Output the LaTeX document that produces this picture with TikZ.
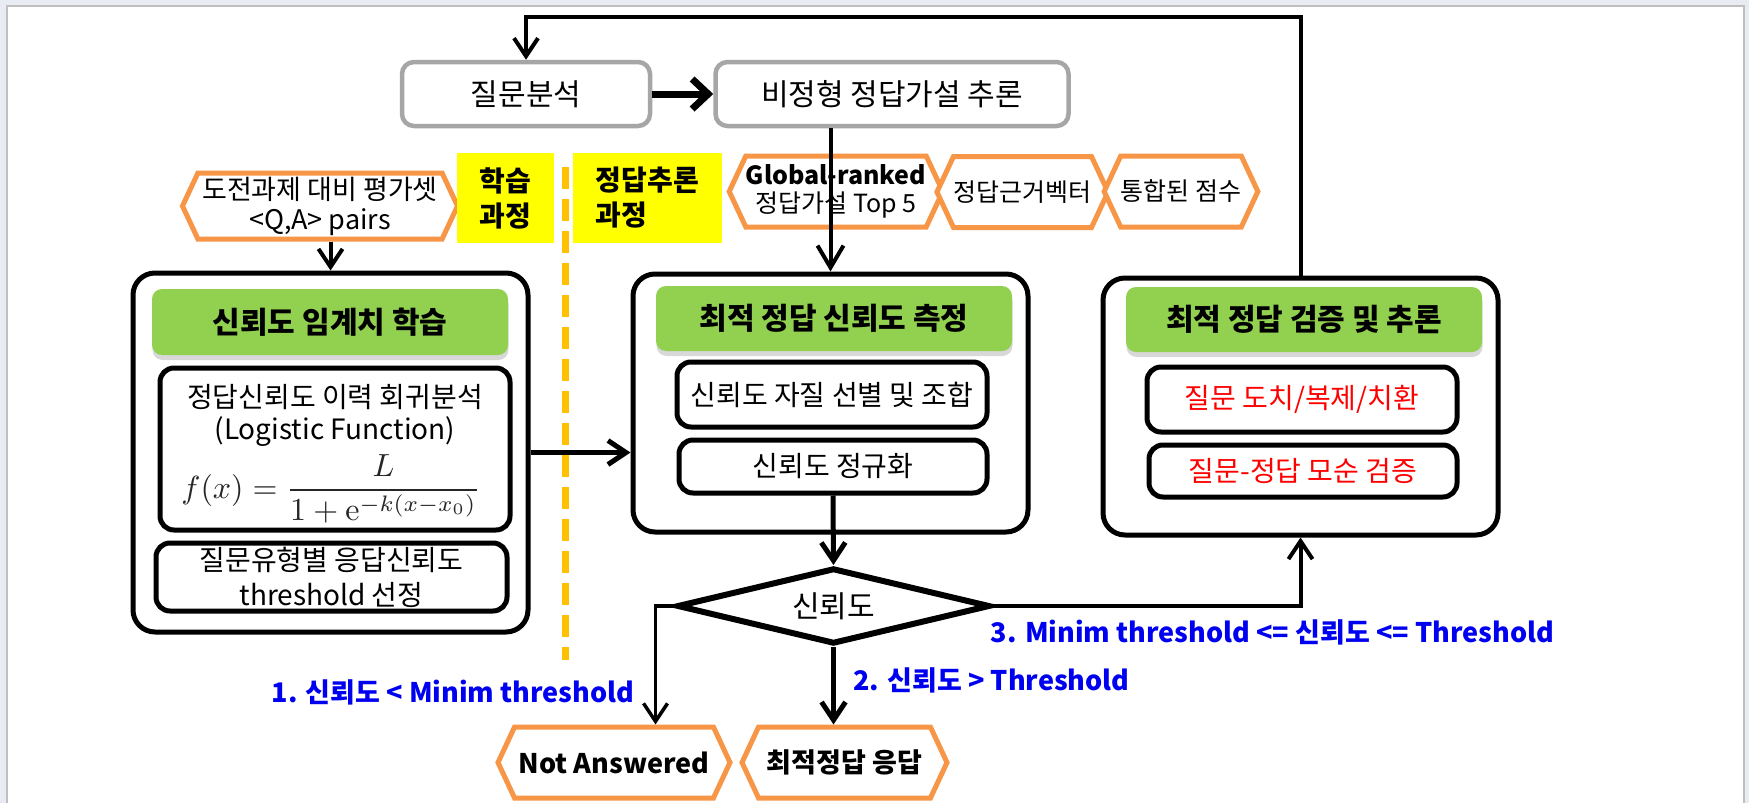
\documentclass[tikz,border=0pt]{standalone}
\usepackage{graphicx}
\usepackage[no-math]{fontspec}
\setmainfont{Noto Sans CJK KR}
\usetikzlibrary{shapes.geometric,shapes.symbols,arrows.meta,shadows}
\definecolor{framebg}{HTML}{E8ECF2}
\definecolor{frameline}{HTML}{BFBFBF}
\definecolor{graybdr}{HTML}{A6A6A6}
\definecolor{hdrgreen}{HTML}{92D050}
\definecolor{hexorange}{HTML}{F79646}
\definecolor{dashorange}{HTML}{FFC000}
\definecolor{hlyellow}{HTML}{FFFF00}
\definecolor{lblblue}{RGB}{0,0,240}
\definecolor{txtred}{HTML}{FF0000}
\newcommand{\fsz}[2]{\fontsize{#1}{#2}\selectfont}
\begin{document}
\begin{tikzpicture}[x=1pt,y=-1pt,
  graybox/.style={draw=graybdr, line width=4.5, rounded corners=12, fill=white, inner sep=0, font=\fsz{30}{36}},
  bigbox/.style={draw=black, line width=5, rounded corners=22, fill=white, inner sep=0},
  hdr/.style={fill=hdrgreen, rounded corners=10, inner sep=0, font=\fsz{30}{36}\bfseries,
    drop shadow={shadow xshift=0.5pt, shadow yshift=-5pt, opacity=0.3}},
  subbox/.style={draw=black, line width=5, rounded corners=14, fill=white, inner sep=0, font=\fsz{28}{34}},
  hexa/.style={signal, signal to=east and west, signal pointer angle=130, draw=hexorange, line width=5, fill=white, inner sep=0, align=center},
  ybox/.style={fill=hlyellow, inner sep=0, font=\fsz{28}{35}\bfseries},
  lbl/.style={text=lblblue, font=\fsz{27}{32}\bfseries, inner sep=0},
  plain/.style={inner sep=0, font=\fsz{28}{34}},
  conn/.style={draw=black, line width=4},
  tip/.style={-{Straight Barb[length=18pt,width=24pt]}},
  dashline/.style={draw=dashorange, line width=7, dash pattern=on 22pt off 10pt}
]
\useasboundingbox (0,0) rectangle (1749,803);
\fill[framebg] (0,0) rectangle (1749,803);
\filldraw[fill=white, draw=frameline, line width=2.5] (7.2,6.2) rectangle (1744.2,815);

% top boxes
\node[graybox, minimum width=248, minimum height=64] (q) at (526,94) {질문분석};
\node[graybox, minimum width=353, minimum height=64] (infer) at (892,94) {비정형 정답가설 추론};

% hexagons and yellow labels
\node[hexa, minimum width=275, minimum height=66, font=\fsz{27}{30}] (h1) at (320,206) {도전과제 대비 평가셋\\<Q,A> pairs};
\node[ybox, minimum width=97, minimum height=90, align=center] (y1) at (505.5,198) {학습\\과정};
\node[ybox, minimum width=149, minimum height=90, align=left] (y2) at (647.5,198) {정답추론\\과정};
\coordinate (dtop) at (565,167);
\coordinate (dbot) at (565,660);
\draw[dashline] (dtop) -- (dbot);
\node[hexa, minimum width=202, minimum height=71, font=\fsz{25}{28}] (h2) at (836,191.5) {\textbf{Global-ranked}\\정답가설 Top 5};
\node[hexa, minimum width=171, minimum height=71, font=\fsz{25}{28}] (h3) at (1022.5,192) {정답근거벡터};
\node[hexa, minimum width=146, minimum height=71, font=\fsz{25}{28}] (h4) at (1181,191.5) {통합된 점수};

% left box
\node[bigbox, minimum width=395, minimum height=359] (lb) at (330.5,452.5) {};
\node[hdr, minimum width=356, minimum height=66] (g1) at (330,322) {신뢰도 임계치 학습};
\node[subbox, minimum width=350, minimum height=162] (f1) at (335,449) {};
\node[plain] (f1a) at (335,397) {정답신뢰도 이력 회귀분석};
\node[plain] (f1b) at (335,432) {(Logistic Function)};
\node[inner sep=0, anchor=base, text=black!85, font=\fsz{10}{12}] (f1c) at (331,498) {\scalebox{3.2}[3.2]{$\displaystyle f(x)=\frac{L}{1+\mathrm{e}^{-k(x-x_0)}}$}};
\node[subbox, minimum width=351, minimum height=68] (t1) at (331.5,577) {};
\node[plain, align=center, font=\fsz{28}{35}] (t1t) at (331.5,577) {질문유형별 응답신뢰도\\threshold 선정};

% middle box
\node[bigbox, minimum width=395, minimum height=258] (mb) at (830.5,403) {};
\node[hdr, minimum width=356, minimum height=65] (g2) at (834,318.5) {최적 정답 신뢰도 측정};
\node[subbox, minimum width=310, minimum height=65] (s1) at (832,394.5) {신뢰도 자질 선별 및 조합};
\node[subbox, minimum width=308, minimum height=53] (s2) at (833,466.5) {신뢰도 정규화};

% right box
\node[bigbox, minimum width=395, minimum height=257] (rb) at (1300.5,406.5) {};
\node[hdr, minimum width=356, minimum height=65] (g3) at (1304,319.5) {최적 정답 검증 및 추론};
\node[subbox, minimum width=310, minimum height=65, text=txtred] (r1) at (1302,399.5) {질문 도치/복제/치환};
\node[subbox, minimum width=308, minimum height=52, text=txtred] (r2) at (1303,471) {질문-정답 모순 검증};

% decision and outputs
\node[diamond, aspect=4, draw=black, line width=6, fill=white, inner sep=0, minimum width=313, minimum height=76, font=\fsz{30}{36}] (d) at (833.5,606) {신뢰도};
\node[hexa, minimum width=232, minimum height=71, font=\fsz{27}{32}\bfseries] (na) at (614,762.5) {Not Answered};
\node[hexa, minimum width=205, minimum height=71, font=\fsz{27}{32}\bfseries] (ans) at (844.5,762.5) {최적정답 응답};

% labels
\node[lbl] (l1) at (453,692) {1. 신뢰도 < Minim threshold};
\node[lbl] (l2) at (991.5,680) {2. 신뢰도 > Threshold};
\node[lbl] (l3) at (1272.5,632) {3. Minim threshold <= 신뢰도 <= Threshold};

% connectors
\coordinate (fbtop) at (0,17);
\coordinate (nax) at (655.5,0);
\draw[conn, tip] (rb.north) |- (q.north |- fbtop) -- (q.north);
\draw[conn, line width=7, -{Straight Barb[length=16pt,width=30pt]}] (q) -- (infer);
\draw[conn, -{Straight Barb[length=22pt,width=26pt]}] (mb.north |- infer.south) -- (mb.north);
\draw[conn, tip] (lb.north |- h1.south) -- (lb.north);
\draw[conn, line width=5, tip] (lb.east) -- (lb.east -| mb.west);
\draw[conn, line width=5, tip] (s2.south) -- (d.north);
\draw[conn, line width=3.5, tip] (d.west) -| (nax |- na.north);
\draw[conn, line width=5, tip] (d.south) -- (d.south |- ans.north);
\draw[conn, tip] (d.east) -| (rb.south);
\end{tikzpicture}
\end{document}
